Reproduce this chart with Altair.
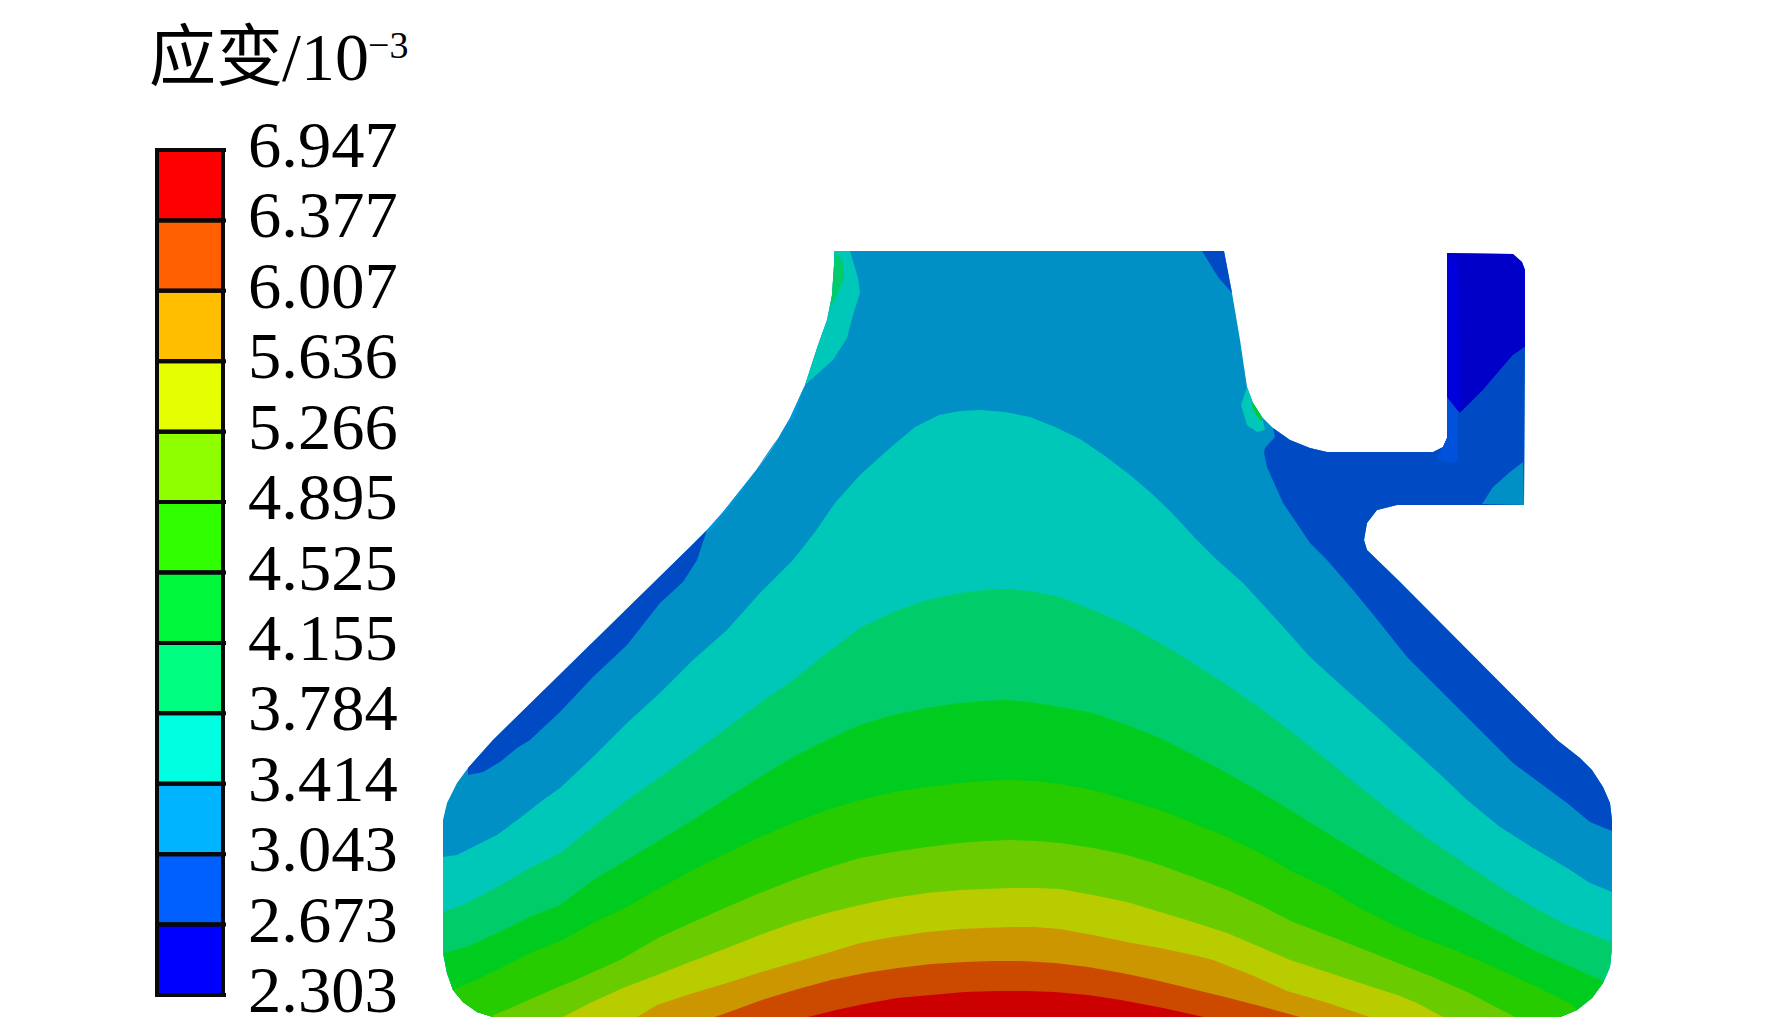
import altair as alt
import pandas as pd

# Legend
levels = [6.947, 6.377, 6.007, 5.636, 5.266, 4.895, 4.525, 4.155, 3.784, 3.414, 3.043, 2.673, 2.303]
labels = ["%.3f" % v for v in levels]
legend_colors = ["#FF0000", "#FF5F00", "#FFBE00", "#E6FF00", "#8FFF00", "#30FF00",
                 "#00F83A", "#00FF80", "#00FFE0", "#00B4FF", "#0060FF", "#0000FF"]

# Contour colours of the model
BASE, DARK, DEEP, AZURE = "#0090C6", "#004AC4", "#0000C8", "#0052DC"
TEAL = "#00C8B8"
dome_colors = [TEAL, "#00CC6A", "#00CC1F", "#26CC00", "#6ACC00", "#B8CC00", "#CC9600", "#CC4A00", "#CC0000"]

# Outline
upper_left = [(834,251),(834,265),(832,295),(827,320),(818,345),(805,385),(790,418),(770,452),(750,478),(723,512),(707,530),
              (690,547),(493,740),(468,768),(457,783),(447,803),(443,820)]
lower_left = [(493,1017),(477,1012),(463,1002),(453,990),(447,973),(443,953),(443,820)]
lower_right = [(1612,820),(1612,947),(1610,967),(1603,983),(1592,998),(1577,1010),(1560,1017)]
upper_right = [(1557,740),(1580,758),(1592,770),(1603,787),(1610,803)]
notch = [(1398,580),(1367,550),(1364,540),(1367,523),(1377,510),(1397,505),(1524,505),(1525,270),(1522,262),(1513,254),
         (1447,253),(1447,438),(1443,447),(1433,452),(1327,452),(1310,448),(1290,440),(1273,428),(1262,417),(1253,403),
         (1247,387),(1240,340),(1232,293),(1224,251)]

curves = [
 [(443,857),(457,855),(473,847),(497,835),(520,818),(543,800),(560,788),(593,757),(627,723),(660,693),(693,660),(727,630),(760,593),(793,560),(815,532),(835,503),(860,475),(890,448),(915,427),(939,415),(960,411),(980,410),(1005,412),(1030,417),(1055,427),(1080,439),(1105,456),(1130,475),(1150,492),(1171,512),(1195,538),(1217,560),(1243,583),(1277,620),(1310,657),(1343,687),(1377,717),(1410,747),(1443,777),(1467,800),(1500,827),(1533,848),(1567,868),(1590,883),(1612,892)],
 [(443,912),(467,903),(497,887),(530,868),(560,853),(593,827),(627,800),(660,777),(693,753),(727,728),(760,703),(793,680),(827,653),(860,628),(893,612),(927,600),(960,593),(985,590),(1005,589),(1030,591),(1060,597),(1093,610),(1127,625),(1160,643),(1193,663),(1227,685),(1260,708),(1293,733),(1327,760),(1360,787),(1393,813),(1427,838),(1467,865),(1500,887),(1533,907),(1567,925),(1611,942)],
 [(444,953),(467,947),(497,933),(530,917),(560,905),(593,880),(627,860),(660,840),(693,820),(727,798),(760,777),(793,757),(827,740),(860,725),(893,715),(927,708),(960,703),(985,701),(1005,700),(1030,702),(1060,707),(1093,713),(1127,725),(1160,738),(1193,755),(1227,773),(1260,792),(1293,812),(1327,833),(1360,853),(1393,873),(1427,893),(1460,910),(1500,932),(1533,950),(1567,965),(1603,981)],
 [(458,988),(497,970),(530,953),(563,940),(593,923),(627,907),(660,888),(693,870),(727,853),(760,837),(793,823),(827,810),(860,800),(893,792),(927,787),(960,783),(985,781),(1010,780),(1035,781),(1060,784),(1093,790),(1127,800),(1160,810),(1193,823),(1227,837),(1260,853),(1293,872),(1327,888),(1360,908),(1393,925),(1427,940),(1460,952),(1500,970),(1533,985),(1573,1005)],
 [(492,1016),(513,1007),(547,992),(580,978),(620,960),(660,937),(693,922),(727,907),(760,893),(793,880),(827,868),(860,858),(893,852),(927,847),(960,843),(985,841),(1010,840),(1035,841),(1060,843),(1093,848),(1127,855),(1160,865),(1193,877),(1227,890),(1260,905),(1293,922),(1327,935),(1360,948),(1383,957),(1400,964),(1433,977),(1467,992),(1515,1017)],
 [(563,1017),(590,1003),(623,988),(657,975),(690,962),(727,948),(760,935),(793,923),(827,913),(860,905),(893,898),(927,893),(960,890),(985,889),(1010,888),(1035,888),(1060,889),(1093,895),(1127,902),(1160,912),(1193,922),(1227,933),(1260,947),(1290,960),(1345,978),(1400,996),(1417,1003),(1443,1017)],
 [(637,1017),(657,1005),(690,994),(727,983),(765,971),(803,960),(827,953),(860,943),(893,937),(927,932),(960,929),(985,928),(1010,927),(1035,927),(1060,929),(1093,935),(1127,942),(1160,948),(1193,955),(1213,960),(1254,976),(1287,991),(1328,1003),(1370,1017)],
 [(715,1017),(740,1008),(765,999),(798,989),(831,980),(865,973),(898,968),(931,964),(964,962),(993,961),(1022,961),(1055,963),(1088,967),(1122,973),(1155,980),(1188,988),(1221,996),(1260,1006),(1300,1017)],
 [(808,1017),(836,1010),(864,1004),(897,998),(931,995),(964,992),(997,991),(1026,991),(1055,992),(1088,995),(1121,1000),(1163,1008),(1204,1017)],
]

left_sliver = [(707,530),(697,560),(683,582),(660,603),(627,645),(593,677),(560,712),(530,740),(517,748),(500,762),(483,772),(468,775),(468,768),(493,740),(690,547)]
edge_strip = [(707,530),(723,512),(750,478),(770,452),(790,418),(805,385),(795,415),(773,445),(740,494),(707,534)]
right_dark = [(1612,831),(1590,822),(1567,803),(1540,783),(1513,763),(1488,738),(1460,710),(1433,683),(1407,657),(1380,623),(1353,590),(1327,560),(1310,543),(1283,503),(1267,467),(1264,453),(1265,448),(1275,437),(1273,428),
              (1290,440),(1310,448),(1327,452),(1433,452),(1443,447),(1447,438),(1447,397),(1460,413),(1483,390),(1500,370),(1513,355),(1525,347),
              (1524,505),(1397,505),(1377,510),(1367,523),(1364,540),(1367,550),(1398,580),(1557,740),(1580,758),(1592,770),(1603,787),(1610,803),(1612,820)]
hook_deep = [(1447,253),(1513,254),(1522,262),(1525,270),(1525,347),(1513,355),(1500,370),(1483,390),(1460,413),(1447,397)]
hook_bright = [(1447,253),(1458,262),(1460,413),(1447,397)]
hook_corner = [(1482,504),(1493,487),(1510,472),(1523,462),(1524,505)]
stripe = [(1447,397),(1458,413),(1458,460),(1452,463),(1437,460),(1443,447),(1447,438)]
neck_teal = [(834,251),(850,251),(858,278),(860,293),(853,315),(847,338),(833,360),(805,385),(818,345),(827,320),(832,295),(834,265)]
neck_green = [(836,252),(843,262),(844,278),(838,293),(830,308),(832,295),(834,265)]
top_dark = [(1202,251),(1224,251),(1232,293),(1218,277)]
fillet_teal = [(1247,387),(1241,405),(1247,425),(1257,432),(1265,430),(1262,417),(1253,403)]
fillet_green = [(1251,403),(1256,415),(1262,422),(1262,417),(1253,403)]


def feature(pts, colour):
    ring = [list(p) for p in pts]
    return {"type": "Feature", "properties": {"c": colour},
            "geometry": {"type": "Polygon", "coordinates": [ring + [ring[0]]]}}


silhouette = upper_left + lower_left[::-1][1:] + lower_right[::-1] + upper_right[::-1] + notch
features = [feature(silhouette, BASE),
            feature(left_sliver, DARK),
            feature(edge_strip, "#0098DC"),
            feature(right_dark, DARK),
            feature(hook_deep, DEEP),
            feature(hook_bright, "#0000DC"),
            feature(hook_corner, BASE),
            feature(stripe, AZURE),
            feature(top_dark, DARK),
            feature(neck_teal, TEAL),
            feature(neck_green, "#00CC6A"),
            feature(fillet_teal, TEAL),
            feature(fillet_green, "#00CC30")]
for curve, colour in zip(curves, dome_colors):
    yl, yr = curve[0][1], curve[-1][1]
    ring = curve + [p for p in lower_right if p[1] > yr] + [p for p in lower_left if p[1] > yl]
    features.append(feature(ring, colour))

model = (alt.Chart(alt.Data(values=features))
         .mark_geoshape(strokeWidth=0)
         .encode(color=alt.Color("properties.c:N", scale=None, legend=None))
         .project(type="identity", scale=1, translate=[-8, -8]))

y_scale = alt.Scale(domain=[0, 12], range=[142, 987])
boxes = pd.DataFrame({"lo": list(range(12)), "hi": list(range(1, 13)), "c": legend_colors})
bar = (alt.Chart(boxes).mark_rect(stroke="#0A0A0A", strokeWidth=4)
       .encode(x=alt.value(149), x2=alt.value(215),
               y=alt.Y("lo:Q", scale=y_scale, axis=None), y2="hi:Q",
               fill=alt.Fill("c:N", scale=None, legend=None)))
ticks = (alt.Chart(pd.DataFrame({"i": list(range(13))})).mark_rule(color="#0A0A0A", strokeWidth=4)
         .encode(x=alt.value(147), x2=alt.value(218), y=alt.Y("i:Q", scale=y_scale, axis=None)))
text_df = pd.DataFrame({"i": list(range(13)), "t": labels})
label_marks = (alt.Chart(text_df)
               .mark_text(font="Liberation Serif", fontSize=66.5, align="left", baseline="middle", dy=-3, color="#000000")
               .encode(x=alt.value(240), y=alt.Y("i:Q", scale=y_scale, axis=None), text="t:N"))


def caption(text, x, y, font, size):
    return (alt.Chart(pd.DataFrame({"t": [text]}))
            .mark_text(font=font, fontSize=size, align="left", baseline="alphabetic", color="#000000")
            .encode(x=alt.value(x), y=alt.value(y), text="t:N"))


chart = (alt.layer(model, bar, ticks, label_marks,
                   caption("应变", 141, 72, "Noto Sans CJK SC", 67),
                   caption("/10", 274, 72, "Liberation Serif", 68),
                   caption("\u22123", 360, 50, "Liberation Serif", 38))
         .properties(width=1756, height=1019, padding=0, autosize=alt.AutoSizeParams(type="none"))
         .configure_view(stroke=None))

chart.save("out.html", embed_options={"renderer": "svg", "actions": False})
